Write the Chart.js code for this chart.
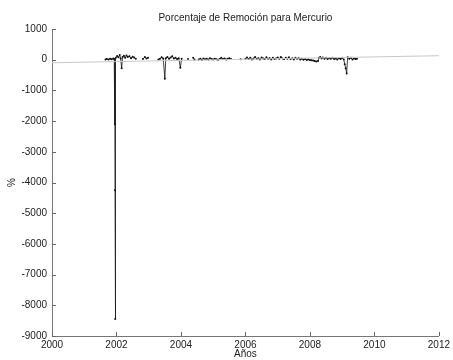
<!DOCTYPE html>
<html>
<head>
<meta charset="utf-8">
<script src="https://cdn.jsdelivr.net/npm/chart.js@4/dist/chart.umd.min.js"></script>
<style>
  html, body { margin: 0; padding: 0; background: #fff; }
  canvas { display: block; }
</style>
</head>
<body>
<canvas id="grafico" width="453" height="360"></canvas>
<script>
// años (decimal) y porcentaje de remoción; null = hueco en la serie
const anios = [
  2001.66, 2001.70, 2001.75, 2001.80, 2001.85, 2001.90, 2001.93, 2001.95, 2001.955, 2001.96,
  2001.98, 2002.02, 2002.06, 2002.10, 2002.13, 2002.16, 2002.19, 2002.23, 2002.27, 2002.31,
  2002.35, 2002.40, 2002.45, 2002.50, 2002.55, 2002.60, 2002.70,
  2002.82, 2002.88, 2002.93, 2002.98, 2003.10,
  2003.30, 2003.35, 2003.40, 2003.45, 2003.50, 2003.53, 2003.58, 2003.63, 2003.68, 2003.73,
  2003.78, 2003.83, 2003.88, 2003.93, 2003.98, 2004.02, 2004.10,
  2004.22, 2004.30,
  2004.38, 2004.42, 2004.48,
  2004.55, 2004.60, 2004.65, 2004.70, 2004.75, 2004.80, 2004.85, 2004.90, 2004.95, 2005.00,
  2005.05, 2005.10, 2005.15, 2005.20, 2005.25, 2005.30, 2005.35, 2005.40, 2005.45, 2005.50,
  2005.55, 2005.70,
  2005.85, 2005.92,
  2006.00, 2006.05, 2006.10, 2006.15, 2006.20, 2006.25, 2006.30, 2006.35, 2006.40, 2006.45,
  2006.50, 2006.55, 2006.60, 2006.65, 2006.70, 2006.75, 2006.80, 2006.85, 2006.90, 2006.95,
  2007.00, 2007.05, 2007.10, 2007.15, 2007.20, 2007.25, 2007.30, 2007.35, 2007.40, 2007.45,
  2007.50, 2007.55, 2007.60, 2007.65, 2007.70, 2007.75, 2007.80, 2007.85, 2007.90, 2007.95,
  2008.00, 2008.05, 2008.10, 2008.15, 2008.20, 2008.25, 2008.28, 2008.32, 2008.36, 2008.40,
  2008.45, 2008.50, 2008.55, 2008.60, 2008.65, 2008.70, 2008.75, 2008.80, 2008.85, 2008.90,
  2008.95, 2009.00, 2009.05, 2009.08, 2009.11, 2009.14, 2009.17, 2009.22, 2009.27, 2009.32,
  2009.37, 2009.42, 2009.46
];
const remocion = [
  10, 25, 5, 30, 15, 40, 20, -2100, -4250, -8450,
  60, 120, 80, 150, 40, -280, 90, 130, 60, 140,
  90, 110, 50, 100, 70, 30, null,
  20, 90, 40, 60, null,
  10, 30, 80, 40, -620, 50, 90, 30, 70, 110,
  40, 60, 20, 50, -260, 30, null,
  20, null,
  60, 10, null,
  10, 30, 0, 40, 15, 30, 5, 45, 20, 10,
  35, 15, 0, 20, 60, 25, 40, 10, 30, 50,
  20, null,
  15, null,
  30, 70, 20, 60, 10, 40, 90, 30, 50, 10,
  70, 40, 20, 80, 30, 50, 10, 60, 20, 40,
  70, 30, 90, 40, 20, 60, 30, 80, 20, 50,
  10, 60, 30, 50, 10, 30, 0, 20, -10, 10,
  -10, -20, -30, -45, -60, -40, 60, 90, 40, 70,
  30, 60, 20, 50, 30, 60, 20, 40, 10, 50,
  20, 60, 10, -150, -280, -450, 80, 30, 60, 10,
  40, 20, 30
];
// recta de tendencia
const tendenciaX = [2000, 2012];
const tendenciaY = [-100, 130];

const ticksY = [1000, 0, -1000, -2000, -3000, -4000, -5000, -6000, -7000, -8000, -9000];
const ticksX = [2000, 2002, 2004, 2006, 2008, 2010, 2012];

const puntos = anios.map((a, i) => ({ x: a, y: remocion[i] }));
const recta = tendenciaX.map((a, i) => ({ x: a, y: tendenciaY[i] }));

// marcas de los ejes hacia adentro (estilo MATLAB)
const marcasInternas = {
  id: 'marcasInternas',
  afterDraw(chart) {
    const c = chart.ctx, a = chart.chartArea;
    const sx = chart.scales.x, sy = chart.scales.y;
    c.save();
    c.strokeStyle = '#666';
    c.lineWidth = 1;
    c.beginPath();
    sy.ticks.forEach(t => {
      const py = Math.round(sy.getPixelForValue(t.value)) + 0.5;
      c.moveTo(a.left, py); c.lineTo(a.left + 4, py);
    });
    sx.ticks.forEach(t => {
      const px = Math.round(sx.getPixelForValue(t.value)) + 0.5;
      c.moveTo(px, a.bottom); c.lineTo(px, a.bottom - 4);
    });
    c.stroke();
    c.restore();
  }
};

Chart.defaults.font.family = '"Liberation Sans", Arial, sans-serif';
Chart.defaults.font.size = 10;
Chart.defaults.color = '#222';

new Chart(document.getElementById('grafico').getContext('2d'), {
  type: 'scatter',
  data: {
    datasets: [
      {
        label: 'tendencia',
        data: recta,
        showLine: true,
        borderColor: '#c8c8c8',
        borderWidth: 1,
        pointRadius: 0
      },
      {
        label: 'remoción',
        data: puntos,
        showLine: true,
        spanGaps: false,
        borderColor: '#111',
        backgroundColor: '#111',
        borderWidth: 0.8,
        pointRadius: 1,
        pointBorderWidth: 0
      }
    ]
  },
  options: {
    responsive: false,
    animation: false,
    layout: { padding: { left: 0, right: 10, top: 0, bottom: 0 } },
    plugins: {
      legend: { display: false },
      tooltip: { enabled: false },
      title: {
        display: true,
        fullSize: false,
        text: 'Porcentaje de Remoción para Mercurio',
        font: { size: 10, weight: 'normal' },
        color: '#222',
        padding: { top: 12, bottom: 5 }
      }
    },
    scales: {
      x: {
        type: 'linear',
        min: 2000,
        max: 2012,
        afterBuildTicks: s => { s.ticks = ticksX.map(v => ({ value: v })); },
        afterFit: s => { s.height = 24; },
        ticks: { callback: v => String(v), padding: 3, maxRotation: 0, color: '#222' },
        grid: { display: false, drawTicks: false },
        border: { display: true, color: '#777' },
        title: { display: true, text: 'Años', color: '#222', padding: { top: 0, bottom: 0 } }
      },
      y: {
        type: 'linear',
        min: -9000,
        max: 1000,
        afterBuildTicks: s => { s.ticks = ticksY.map(v => ({ value: v })); },
        afterFit: s => { s.width = 52; },
        ticks: { callback: v => String(v), padding: 5, color: '#222' },
        grid: { display: false, drawTicks: false },
        border: { display: true, color: '#777' },
        title: { display: true, text: '%', color: '#222', padding: { top: 6, bottom: 4 } }
      }
    }
  },
  plugins: [marcasInternas]
});
</script>
</body>
</html>
